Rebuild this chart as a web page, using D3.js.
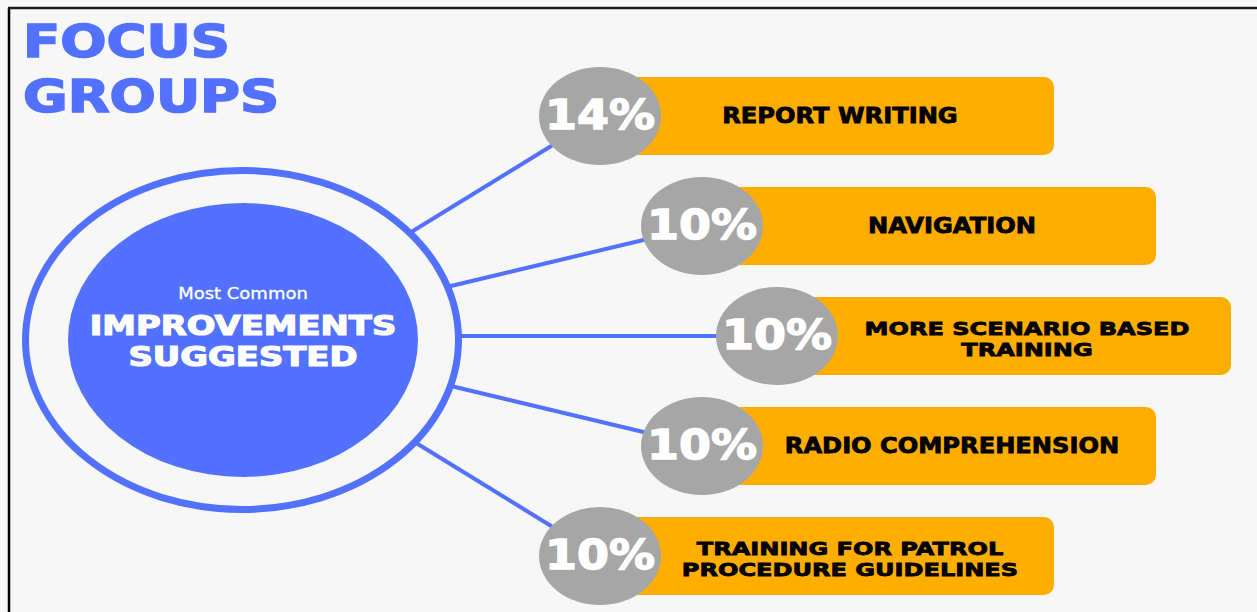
<!DOCTYPE html>
<html>
<head>
<meta charset="utf-8">
<script src="https://cdn.jsdelivr.net/npm/d3@7"></script>
<style>
  body { margin: 0; background: #fff; }
  svg { display: block; }
</style>
</head>
<body>
<div id="vis"></div>
<script>
// chart data
var percents = [14, 10, 10, 10, 10];
var labels = [
  ["REPORT WRITING"],
  ["NAVIGATION"],
  ["MORE SCENARIO BASED", "TRAINING"],
  ["RADIO COMPREHENSION"],
  ["TRAINING FOR PATROL", "PROCEDURE GUIDELINES"]
];
var titleLines = ["FOCUS", "GROUPS"];
var hubLines = ["Most Common", "IMPROVEMENTS", "SUGGESTED"];

var width = 1257, height = 612;
var blue = "#5271ff", orange = "#ffae00", grey = "#a6a6a6", bg = "#f7f7f7";
var font = "'DejaVu Sans', sans-serif";

// hub ellipse
var hub = {cx: 242, cy: 340, rx: 220, ry: 173};

// rows go down the right side
var y = d3.scalePoint()
  .domain(d3.range(percents.length))
  .range([116, 556]);

// bubbles bow out toward the middle row
var mid = (percents.length - 1) / 2;
var x = d3.scaleLinear()
  .domain([0, 1, 2])
  .range([777, 702, 600]);
function bx(i) { return x(Math.abs(i - mid)); }

var barLength = 454, barHeight = 78;
var bubbleRx = 61, bubbleRy = 49;

// stretch text a bit, the original face is wider than what we have
function widen(sel, k) {
  sel.each(function() {
    var w = this.getComputedTextLength();
    d3.select(this).attr("textLength", w * k).attr("lengthAdjust", "spacingAndGlyphs");
  });
}

var svg = d3.select("#vis").append("svg")
  .attr("width", width)
  .attr("height", height);

svg.append("rect")
  .attr("width", width)
  .attr("height", height)
  .attr("fill", bg);

// frame (top and left only show)
svg.append("line")
  .attr("x1", 8).attr("x2", width)
  .attr("y1", 8).attr("y2", 8)
  .attr("stroke", "#1a1a1a").attr("stroke-width", 2.5);
svg.append("line")
  .attr("x1", 9).attr("x2", 9)
  .attr("y1", 8).attr("y2", height)
  .attr("stroke", "#000").attr("stroke-width", 2.5);

// title
svg.selectAll(".title")
  .data(titleLines)
  .enter().append("text")
  .attr("class", "title")
  .attr("x", 23)
  .attr("y", function(d, i) { return 57 + i * 55; })
  .attr("fill", blue)
  .attr("stroke", blue)
  .attr("stroke-width", 1.6)
  .attr("font-family", font)
  .attr("font-weight", "bold")
  .attr("font-size", 45)
  .text(function(d) { return d; })
  .call(widen, 1.21);

// connectors from hub to each bubble (hub drawn over them)
svg.selectAll(".link")
  .data(percents)
  .enter().append("line")
  .attr("class", "link")
  .attr("x1", hub.cx).attr("y1", y(mid))
  .attr("x2", function(d, i) { return bx(i); })
  .attr("y2", function(d, i) { return y(i); })
  .attr("stroke", blue)
  .attr("stroke-width", 4);

// hub ring and disc
svg.append("ellipse")
  .attr("cx", hub.cx).attr("cy", hub.cy)
  .attr("rx", hub.rx - 3.5).attr("ry", hub.ry - 3.5)
  .attr("fill", bg)
  .attr("stroke", blue)
  .attr("stroke-width", 7);
svg.append("ellipse")
  .attr("cx", hub.cx + 1).attr("cy", hub.cy)
  .attr("rx", 175).attr("ry", 137)
  .attr("fill", blue);

svg.append("text")
  .attr("x", hub.cx + 1).attr("y", 299)
  .attr("text-anchor", "middle")
  .attr("fill", "#fff")
  .attr("stroke", "#fff")
  .attr("stroke-width", 0.3)
  .attr("font-family", font)
  .attr("font-size", 15.5)
  .text(hubLines[0])
  .call(widen, 1.16);

var hubText = svg.append("text")
  .attr("text-anchor", "middle")
  .attr("fill", "#fff")
  .attr("stroke", "#fff")
  .attr("stroke-width", 1.2)
  .attr("font-family", font)
  .attr("font-weight", "bold")
  .attr("font-size", 26);
hubText.selectAll("tspan")
  .data(hubLines.slice(1))
  .enter().append("tspan")
  .attr("x", hub.cx + 1)
  .attr("y", function(d, i) { return 335 + i * 30.5; })
  .text(function(d) { return d; })
  .call(widen, 1.3);

// rows: bar, bubble, label
var row = svg.selectAll(".row")
  .data(percents)
  .enter().append("g")
  .attr("class", "row")
  .attr("transform", function(d, i) { return "translate(" + bx(i) + "," + y(i) + ")"; });

row.append("rect")
  .attr("x", 0)
  .attr("y", -barHeight / 2)
  .attr("width", barLength)
  .attr("height", barHeight)
  .attr("rx", 10)
  .attr("fill", orange);

row.append("ellipse")
  .attr("rx", bubbleRx)
  .attr("ry", bubbleRy)
  .attr("fill", grey);

row.append("text")
  .attr("y", 13)
  .attr("text-anchor", "middle")
  .attr("fill", "#fff")
  .attr("stroke", "#fff")
  .attr("stroke-width", 1.4)
  .attr("font-family", font)
  .attr("font-weight", "bold")
  .attr("font-size", 41)
  .text(function(d) { return d + "%"; })
  .call(widen, 1.12);

row.each(function(d, i) {
  var lines = labels[i];
  var two = lines.length > 1;
  var cx = i === 0 ? 240 : 250;
  d3.select(this).append("text")
    .attr("text-anchor", "middle")
    .attr("fill", "#000")
    .attr("stroke", "#000")
    .attr("stroke-width", 0.8)
    .attr("font-family", font)
    .attr("font-weight", "bold")
    .attr("font-size", two ? 18.5 : 21)
    .selectAll("tspan")
    .data(lines)
    .enter().append("tspan")
    .attr("x", cx)
    .attr("y", function(t, j) { return (two ? -1.5 : 7) + j * 21.6; })
    .text(function(t) { return t; })
    .call(widen, two ? 1.3 : 1.15);
});
</script>
</body>
</html>
